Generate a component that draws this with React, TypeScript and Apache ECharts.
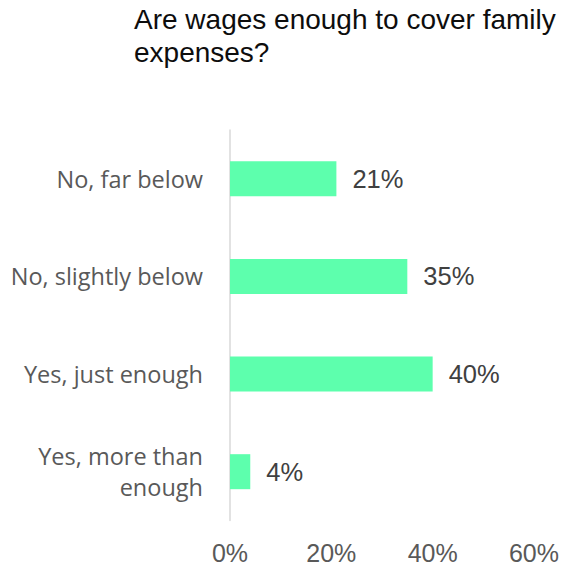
import React, { useEffect, useRef } from "react";
import * as echarts from "echarts";

const titleText = "Are wages enough to cover family\nexpenses?";
const categories = ["No, far below", "No, slightly below", "Yes, just enough", "Yes, more than\nenough"];
const values = [21, 35, 40, 4];
const xTicks = { min: 0, max: 60, interval: 20 };

export default function App() {
  const ref = useRef<HTMLDivElement>(null);
  useEffect(() => {
    if (!ref.current) return;
    const chart = echarts.init(ref.current, null, { renderer: "svg" });
    chart.setOption({
      animation: false,
      backgroundColor: "#ffffff",
      title: {
        text: titleText,
        left: 134,
        top: 3,
        padding: 0,
        textStyle: {
          fontFamily: "Liberation Sans, Arial, sans-serif",
          fontSize: 28,
          fontWeight: "normal",
          color: "#0d0d0d",
          lineHeight: 33,
        },
      },
      grid: { left: 230, right: 23, top: 130, bottom: 44, containLabel: false },
      xAxis: {
        type: "value",
        min: xTicks.min,
        max: xTicks.max,
        interval: xTicks.interval,
        axisLine: { show: false },
        axisTick: { show: false },
        splitLine: { show: false },
        axisLabel: {
          formatter: (v: number) => `${v}%`,
          fontFamily: "Liberation Sans, Arial, sans-serif",
          fontSize: 25,
          lineHeight: 20,
          color: "#595959",
          margin: 22,
        },
      },
      yAxis: {
        type: "category",
        data: categories,
        inverse: true,
        axisLine: { show: true, lineStyle: { color: "#d9d9d9", width: 1.5 } },
        axisTick: { show: false },
        axisLabel: {
          fontFamily: "Open Sans, sans-serif",
          fontSize: 23.5,
          color: "#595959",
          margin: 27,
          lineHeight: 31,
          align: "right",
        },
      },
      series: [
        {
          type: "bar",
          data: values,
          barWidth: 35,
          itemStyle: { color: "#5dffad" },
          label: {
            show: true,
            position: "right",
            distance: 16,
            formatter: (p: any) => `${p.value}%`,
            fontFamily: "Liberation Sans, Arial, sans-serif",
            fontSize: 25.5,
            color: "#404040",
          },
        },
      ],
    });
    return () => chart.dispose();
  }, []);
  return <div ref={ref} style={{ position: "fixed", left: 0, top: 0, width: 562, height: 565 }} />;
}
